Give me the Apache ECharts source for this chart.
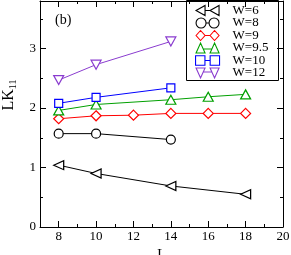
<!DOCTYPE html>
<html><head><meta charset="utf-8">
<script src="https://cdn.jsdelivr.net/npm/echarts@6/dist/echarts.min.js"></script>
<style>html,body{margin:0;padding:0;background:#fff}#c{width:291px;height:255px}</style>
</head><body><div id="c"></div>
<script>
var L6 = [8, 10, 14, 18];
var W6 = [1.04, 0.90, 0.69, 0.55];
var L8 = [8, 10, 14];
var W8 = [1.57, 1.57, 1.47];
var L9 = [8, 10, 12, 14, 16, 18];
var W9 = [1.82, 1.87, 1.88, 1.91, 1.91, 1.91];
var L95 = [8, 10, 14, 16, 18];
var W95 = [1.96, 2.06, 2.14, 2.19, 2.23];
var L10 = [8, 10, 14];
var W10 = [2.08, 2.18, 2.34];
var L12 = [8, 10, 14];
var W12 = [2.47, 2.73, 3.12];
var names = ['W=6', 'W=8', 'W=9', 'W=9.5', 'W=10', 'W=12'];
var colors = ['#000000', '#000000', '#ff0000', '#00a000', '#0000ff', '#8a3ccf'];
var xMajor = [8, 10, 12, 14, 16, 18, 20];
var yMajor = [0, 1, 2, 3];
var yMinor = [0.5, 1.5, 2.5, 3.5];

var serif = 'Liberation Serif';
function pair(xs, ys) { return xs.map(function (x, i) { return [x, ys[i]]; }); }
var sets = [[L6, W6], [L8, W8], [L9, W9], [L95, W95], [L10, W10], [L12, W12]];
var symbols = ['triangle', 'circle', 'diamond', 'triangle', 'rect', 'triangle'];
var rotates = [90, 0, 0, 0, 0, 180];
var sizes = [[9, 10], 9, 10, [10, 9], 8, [10, 9]];
var icons = [
  'path://M0,5 L9,0 L9,10 Z M9,5 L14,5 M14,5 L23,0 L23,10 Z',
  'path://M0,5 A5,5 0 1,1 10,5 A5,5 0 1,1 0,5 Z M10,5 L13,5 M13,5 A5,5 0 1,1 23,5 A5,5 0 1,1 13,5 Z',
  'path://M0,5 L4.5,0 L9,5 L4.5,10 Z M9,5 L14,5 M14,5 L18.5,0 L23,5 L18.5,10 Z',
  'path://M0,10 L4.5,0 L9,10 Z M7.2,6 L15.8,6 M14,10 L18.5,0 L23,10 Z',
  'path://M0,0.5 L9,0.5 L9,9.5 L0,9.5 Z M9,5 L14,5 M14,0.5 L23,0.5 L23,9.5 L14,9.5 Z',
  'path://M0,0 L9,0 L4.5,10 Z M7.2,4 L15.8,4 M14,0 L23,0 L18.5,10 Z'
];

var series = sets.map(function (s, i) {
  return {
    name: names[i], type: 'line', data: pair(s[0], s[1]),
    xAxisIndex: 0, yAxisIndex: 0,
    symbol: symbols[i], symbolRotate: rotates[i], symbolSize: sizes[i],
    showAllSymbol: true,
    lineStyle: { color: colors[i], width: 1 },
    itemStyle: { color: '#fff', borderColor: colors[i], borderWidth: 1.2 },
    emphasis: { disabled: true }, animation: false, z: 3
  };
});

var axisLineStyle = { color: '#000', width: 1 };
function xAx(pos, major, show) {
  return {
    type: 'value', min: 7, max: 20, interval: 1, position: pos,
    axisLine: { show: show, onZero: false, lineStyle: axisLineStyle },
    axisTick: major ? { show: true, inside: true, length: 6, customValues: xMajor, lineStyle: axisLineStyle }
                    : { show: true, inside: true, length: 3, lineStyle: axisLineStyle },
    axisLabel: (major && pos === 'bottom') ? { show: true, customValues: xMajor, margin: 3, color: '#000', fontFamily: serif, fontSize: 13 } : { show: false },
    splitLine: { show: false }
  };
}
function yAx(pos, major, show) {
  return {
    type: 'value', min: 0, max: 3.8, interval: 0.5, position: pos,
    axisLine: { show: show, onZero: false, lineStyle: axisLineStyle },
    axisTick: major ? { show: true, inside: true, length: 6, customValues: yMajor, lineStyle: axisLineStyle }
                    : { show: true, inside: true, length: 3, customValues: yMinor, lineStyle: axisLineStyle },
    axisLabel: (major && pos === 'left') ? { show: true, customValues: yMajor, margin: 4, color: '#000', fontFamily: serif, fontSize: 13 } : { show: false },
    splitLine: { show: false }
  };
}
var xs = [xAx('bottom', true, true), xAx('bottom', false, false), xAx('top', true, true), xAx('top', false, false)];
xs[0].name = 'L'; xs[0].nameLocation = 'middle'; xs[0].nameGap = 14;
xs[0].nameTextStyle = { fontFamily: serif, fontSize: 14, lineHeight: 14, color: '#000' };
var ys = [yAx('left', true, true), yAx('left', false, false), yAx('right', true, true), yAx('right', false, false)];
ys[0].name = '{a|LK}{b|11}'; ys[0].nameLocation = 'middle'; ys[0].nameGap = 20;
ys[0].nameTextStyle = {
  fontFamily: serif, color: '#000', padding: [0, 0, 0, 38],
  rich: { a: { fontFamily: serif, fontSize: 16, lineHeight: 18, color: '#000' },
          b: { fontFamily: serif, fontSize: 10, lineHeight: 10, padding: [9, 0, 0, 0], color: '#000' } }
};

var chart = echarts.init(document.getElementById('c'), null, { renderer: 'canvas' });
chart.setOption({
  animation: false,
  grid: { left: 40, right: 8, top: 1, bottom: 28, containLabel: false, outerBoundsMode: 'none' },
  xAxis: xs, yAxis: ys,
  legend: {
    orient: 'vertical', left: 195, top: 3.5, padding: 0,
    itemWidth: 24, itemHeight: 10, itemGap: -1.5, symbolKeepAspect: true,
    selectedMode: false,
    textStyle: { fontFamily: serif, fontSize: 13, lineHeight: 13, color: '#000', padding: [1, 0, 0, 8] },
    data: names.map(function (n, i) {
      return { name: n, icon: icons[i], symbolRotate: 0,
               itemStyle: { color: '#fff', borderColor: colors[i], borderWidth: 1.1 } };
    })
  },
  graphic: [
    { type: 'rect', shape: { x: 186.5, y: 0.5, width: 92, height: 80 }, style: { fill: null, stroke: '#000', lineWidth: 1 }, z: 1 },
    { type: 'text', left: 55, top: 13, style: { text: '(b)', fontFamily: serif, fontSize: 14, fill: '#000' } }
  ],
  series: series
});
</script></body></html>
